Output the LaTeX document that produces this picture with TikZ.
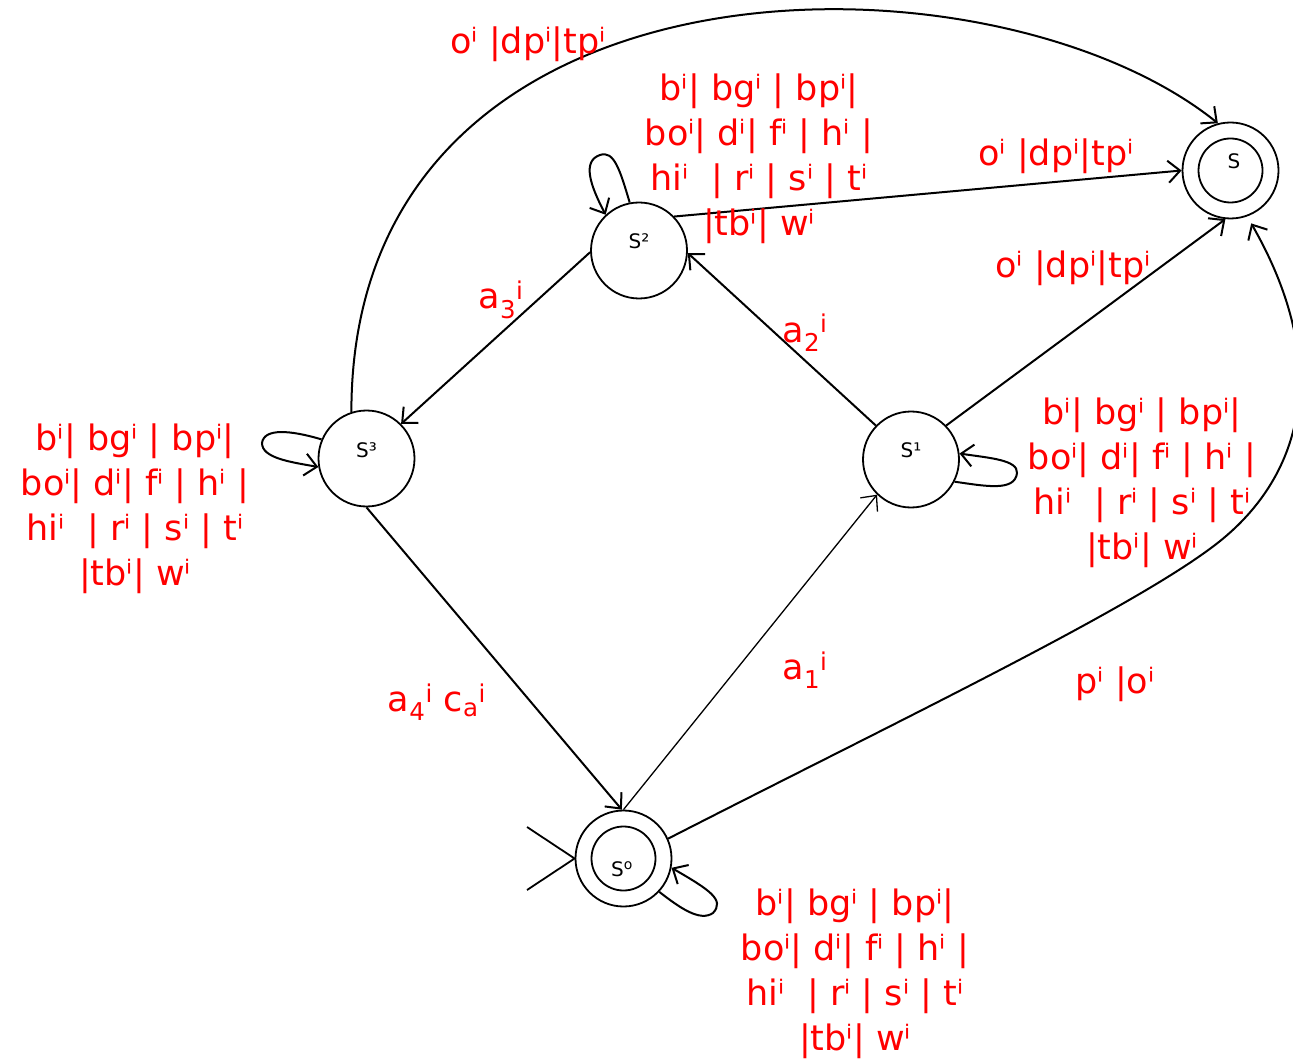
\documentclass[tikz,border=0pt]{standalone}
\usepackage{fontspec}
\setmainfont{DejaVu Sans}
\usetikzlibrary{arrows.meta}
\begin{document}
\begin{tikzpicture}[x=1pt,y=-1pt,
  state/.style={circle,draw,line width=1.8pt,minimum size=96pt,inner sep=0pt},
  stlbl/.style={font=\fontsize{20}{24}\selectfont,inner sep=0pt},
  lbl/.style={text=red,font=\fontsize{35}{45}\selectfont,align=center,inner sep=0pt},
  edge/.style={line width=2pt,-{Straight Barb[length=12pt,width=22pt,line width=2pt]}},
  thinedge/.style={line width=1.3pt,-{Straight Barb[length=12pt,width=22pt,line width=1.3pt]}},
]
\useasboundingbox (0,0) rectangle (1293,1064);

% states
\node[state] (s0) at (623.5,858.5) {};
\node[state] (s1) at (911,459.5) {};
\node[state] (s2) at (639,250.5) {};
\node[state] (s3) at (366.5,458.5) {};
\node[state] (sf) at (1230.5,170.5) {};
\draw[line width=1.8pt] (s0.center) circle[radius=32];
\draw[line width=1.8pt] (sf.center) circle[radius=32];

\node[stlbl] (t0) at (622,869) {S\textsuperscript{o}};
\node[stlbl] (t1) at (911,450) {S¹};
\node[stlbl] (t2) at (639,241.5) {S²};
\node[stlbl] (t3) at (366.5,450.5) {S³};
\node[stlbl] (tf) at (1234,161.5) {S};

% start marker
\coordinate (m1) at (527,827);
\coordinate (m2) at (527,890);
\draw[line width=1.8pt] (m1) -- (s0.west) -- (m2);

% straight edges
\draw[edge] (s3.south) -- (s0.92);
\draw[thinedge] (s0.north) -- (s1.226);
\draw[edge] (s1.136) -- (s2.357);
\draw[edge] (s2.182) -- (s3.45);
\draw[edge] (s2.44) -- (sf.180);
\draw[edge] (s1.44) -- (sf.264);

% curved edges
\draw[edge] (s3.108) .. controls (351,-60) and (990,-60) .. (sf.105);
\draw[edge,shorten >=8pt] (s0.24) .. controls (900,720) and (1130,610) .. (1215,545)
  .. controls (1300,480) and (1335,370) .. (sf.290);

% self loops
\draw[edge] (s2.101) .. controls (620,170) and (614,150) .. (600,155)
  .. controls (582,161) and (590,185) .. (s2.133);
\draw[edge] (s3.157) .. controls (290,430) and (264,428) .. (262,443)
  .. controls (262,458) and (290,462) .. (s3.190);
\draw[edge] (s1.333) .. controls (985,486) and (1015,492) .. (1017,473)
  .. controls (1018,460) and (990,458) .. (s1.7);
\draw[edge] (s0.317) .. controls (680,908) and (700,922) .. (713,913)
  .. controls (725,900) and (710,890) .. (s0.349);

% labels
\node[lbl] (l1) at (528,44) {oⁱ |dpⁱ|tpⁱ};
\node[lbl] (l2) at (759,159) {bⁱ| bgⁱ | bpⁱ|\\boⁱ| dⁱ| fⁱ | hⁱ |\\hiⁱ\ \ | rⁱ | sⁱ | tⁱ\\|tbⁱ| wⁱ};
\node[lbl] (l3) at (1056,156) {oⁱ |dpⁱ|tpⁱ};
\node[lbl] (l4) at (1073,268) {oⁱ |dpⁱ|tpⁱ};
\node[lbl] (l5) at (501,300) {a\textsubscript{3}\textsuperscript{i}};
\node[lbl] (l6) at (805,333) {a\textsubscript{2}\textsuperscript{i}};
\node[lbl] (l7) at (135,509) {bⁱ| bgⁱ | bpⁱ|\\boⁱ| dⁱ| fⁱ | hⁱ |\\hiⁱ\ \ | rⁱ | sⁱ | tⁱ\\|tbⁱ| wⁱ};
\node[lbl] (l8) at (1142,483) {bⁱ| bgⁱ | bpⁱ|\\boⁱ| dⁱ| fⁱ | hⁱ |\\hiⁱ\ \ | rⁱ | sⁱ | tⁱ\\|tbⁱ| wⁱ};
\node[lbl] (l9) at (805,670) {a\textsubscript{1}\textsuperscript{i}};
\node[lbl] (l10) at (437,702) {a\textsubscript{4}\textsuperscript{i} c\textsubscript{a}\textsuperscript{i}};
\node[lbl] (l11) at (1115,684) {pⁱ |oⁱ};
\node[lbl] (l12) at (855,974) {bⁱ| bgⁱ | bpⁱ|\\boⁱ| dⁱ| fⁱ | hⁱ |\\hiⁱ\ \ | rⁱ | sⁱ | tⁱ\\|tbⁱ| wⁱ};
\end{tikzpicture}
\end{document}
